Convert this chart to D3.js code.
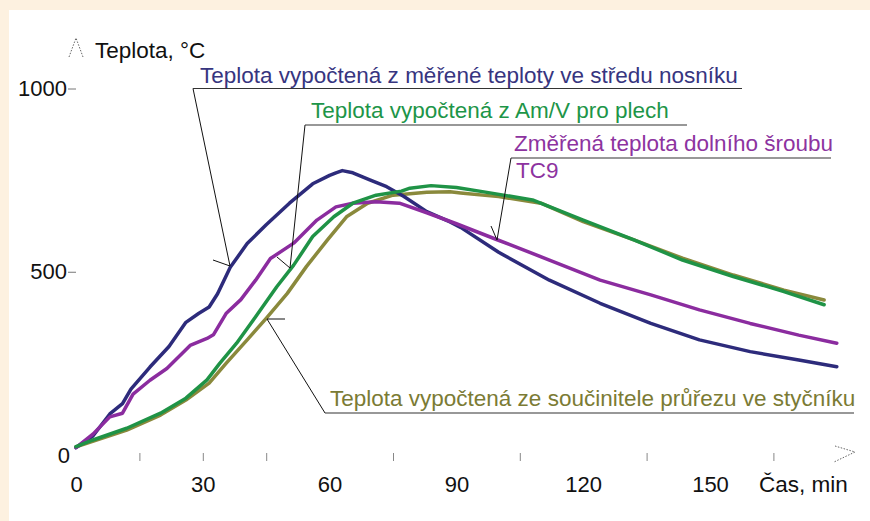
<!DOCTYPE html>
<html>
<head>
<meta charset="utf-8">
<script src="https://cdn.jsdelivr.net/npm/d3@7"></script>
<style>
    body { margin: 0; background: #fdf1e0; }
    text { font-family: "Liberation Sans", Arial, sans-serif; }
</style>
</head>
<body>
<div id="chart"></div>
<script>
const width = 870;
const height = 521;

// time axis: small ticks and the numbers under them
const timeTicks = [15, 30, 45, 75, 105, 135, 165];
const timeLabels = [0, 30, 60, 90, 120, 150];
const tempLabels = [0, 500, 1000];

// [min, °C]
const navySeries = [[0,20],[4,52],[8,112],[11,140],[13,180],[17.5,240],[22,296],[26,362],[29,386],[31.5,404],[33.5,440],[36.5,512],[40.5,577],[45,628],[50.5,687],[56,740],[60,763],[61.5,770],[63,776],[65.5,770],[69.5,751],[73.5,732],[77.5,706],[83,664],[88.5,636],[91,621],[100,553],[112,477],[124,414],[136,359],[147.5,314],[159.5,282],[171,259],[180,241]];
const purpleSeries = [[0,20],[4,57],[8,104],[11,114],[13.5,166],[17.5,204],[21.5,236],[27,299],[31,318],[32.5,328],[35.5,386],[39,424],[42.5,477],[46,536],[51.5,578],[57,641],[61.5,677],[65.5,687],[71,691],[76.5,687],[83,661],[90,631],[99.5,588],[112,532],[124,477],[136,437],[147.5,396],[159.5,359],[171,327],[180,305]];
const greenSeries = [[0,23],[4,41],[12,73],[20,114],[26,155],[31,205],[34,250],[38,305],[42.5,377],[47.5,459],[51.5,518],[56,596],[61,650],[65.5,687],[71,709],[77,720],[79,728],[84,735],[90,730],[96.5,718],[108,696],[120,641],[132,587],[143.5,532],[155.5,487],[167.5,446],[177,410]];
const oliveSeries = [[0,22],[12,68],[20,109],[26,150],[31.5,196],[35.5,250],[40.5,314],[45,373],[50,441],[54.5,514],[59.5,587],[64,650],[69,687],[75,709],[83,717],[88.5,718],[91,715],[100,705],[110,687],[120,637],[132,587],[143.5,537],[155.5,491],[167.5,450],[177,423]];

const svg = d3.select("#chart")
    .append("svg")
    .attr("width", width)
    .attr("height", height);

svg.append("rect").attr("width", width).attr("height", height).attr("fill", "#fdf1e0");
svg.append("rect").attr("x", 9).attr("y", 10).attr("width", width - 9).attr("height", height - 10).attr("fill", "#fff");

const x = d3.scaleLinear().domain([0, 150]).range([76, 710]);
const y = d3.scaleLinear().domain([0, 1000]).range([455, 88.5]);

// x ticks without numbers
const tickAxis = svg.append("g")
    .attr("transform", "translate(0,453)")
    .call(d3.axisBottom(x).tickValues(timeTicks).tickSize(8).tickFormat(""));
tickAxis.select(".domain").remove();
tickAxis.selectAll("line").attr("stroke", "#888");

// x numbers
const labelAxis = svg.append("g")
    .attr("transform", "translate(0,455)")
    .call(d3.axisBottom(x).tickValues(timeLabels).tickSize(0).tickPadding(21));
labelAxis.select(".domain").remove();
labelAxis.selectAll("text")
    .attr("fill", "#111")
    .style("font-size", "22px")
    .style("font-family", "Liberation Sans, Arial, sans-serif");

// y axis, dash only at 500 and 1000
const yAxis = svg.append("g")
    .attr("transform", "translate(76,0)")
    .call(d3.axisLeft(y).tickValues(tempLabels).tickSize(8).tickPadding(1).tickFormat(d3.format("d")));
yAxis.select(".domain").remove();
yAxis.selectAll("line").attr("stroke", "#777").filter(d => d === 0).remove();
yAxis.selectAll("text")
    .attr("fill", "#111")
    .style("font-size", "22px")
    .style("font-family", "Liberation Sans, Arial, sans-serif");
yAxis.selectAll(".tick").filter(d => d === 0).select("text").attr("x", -6);

// dotted arrow heads
svg.append("path")
    .attr("d", "M69,57L76,38L83,57")
    .attr("fill", "none").attr("stroke", "#666").attr("stroke-dasharray", "1.5,1.5");
svg.append("path")
    .attr("d", "M835,446L855,452L834,462")
    .attr("fill", "none").attr("stroke", "#666").attr("stroke-dasharray", "1.5,1.5");

svg.append("text").attr("x", 95).attr("y", 58)
    .attr("font-size", 22.5).attr("fill", "#111").text("Teplota, °C");
svg.append("text").attr("x", 759).attr("y", 492)
    .attr("font-size", 22.5).attr("fill", "#111").text("Čas, min");

// curves
const line = d3.line().x(d => x(d[0])).y(d => y(d[1]));
const series = [
    { data: oliveSeries, color: "#8a893c" },
    { data: navySeries, color: "#2d2b7b" },
    { data: purpleSeries, color: "#8b2c9f" },
    { data: greenSeries, color: "#1f9346" }
];
svg.selectAll(".curve")
    .data(series)
    .enter()
    .append("path")
    .attr("class", "curve")
    .attr("d", d => line(d.data))
    .attr("fill", "none")
    .attr("stroke", d => d.color)
    .attr("stroke-width", 3.5)
    .attr("stroke-linejoin", "round")
    .attr("stroke-linecap", "round");

// labels with leader lines
const labels = [
    { text: "Teplota vypočtená z měřené teploty ve středu nosníku", color: "#37357f", tx: 200, ty: 83,
      under: [193, 88.5, 742], leader: "M193,88.5L230,266M213,260L230,266" },
    { text: "Teplota vypočtená z Am/V pro plech", color: "#1d9548", tx: 311, ty: 118,
      under: [305, 125, 687], leader: "M305,125L290,268M277,257L290,268" },
    { text: "Změřená teplota dolního šroubu", color: "#8d33a0", tx: 514, ty: 151,
      under: [511, 158, 831], leader: "M511,158L497,240M491,226L497,240" },
    { text: "Teplota vypočtená ze součinitele průřezu ve styčníku", color: "#7b7b34", tx: 330, ty: 406,
      under: [325, 413, 854], leader: "M325,413L267,319M267,319L285,319" }
];

const lab = svg.selectAll(".lab").data(labels).enter().append("g").attr("class", "lab");
lab.append("path")
    .attr("d", d => d.leader)
    .attr("fill", "none").attr("stroke", "#111").attr("stroke-width", 1);
lab.append("line")
    .attr("x1", d => d.under[0]).attr("x2", d => d.under[2])
    .attr("y1", d => d.under[1]).attr("y2", d => d.under[1])
    .attr("stroke", "#333").attr("stroke-width", 1.2);
lab.append("text")
    .attr("x", d => d.tx).attr("y", d => d.ty)
    .attr("font-size", 22.5)
    .attr("fill", d => d.color)
    .text(d => d.text);

svg.append("text").attr("x", 516).attr("y", 178)
    .attr("font-size", 22.5).attr("fill", "#8d33a0").text("TC9");
</script>
</body>
</html>
